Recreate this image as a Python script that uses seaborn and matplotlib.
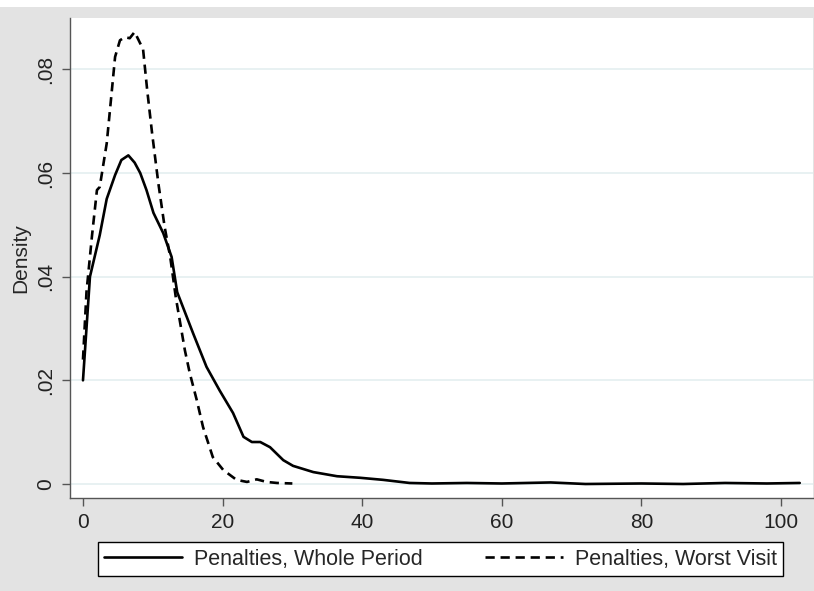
import matplotlib

matplotlib.use("Agg")
import matplotlib.pyplot as plt
import numpy as np
import pandas as pd
import seaborn as sns
from matplotlib.patches import Rectangle

# Penalties, Whole Period (solid)
whole_x = [0, 1.0, 2.4, 3.4, 4.6, 5.5, 6.5, 7.4, 8.2, 9.1, 10.1, 11.5, 12.7, 13.5,
           15.8, 17.7, 19.6, 21.5, 23.0, 24.2, 25.4, 26.8, 28.7, 30.1, 33, 36.4,
           39.7, 43, 46.8, 50, 55, 60, 67, 72, 80, 86, 92, 98, 102.7]
whole_y = [0.020, 0.040, 0.048, 0.055, 0.0596, 0.0625, 0.0634, 0.062, 0.060, 0.0567,
           0.0523, 0.0484, 0.0438, 0.037, 0.029, 0.0226, 0.018, 0.0137, 0.0091,
           0.0081, 0.0081, 0.0071, 0.0046, 0.0035, 0.0023, 0.0015, 0.0012, 0.0008,
           0.0002, 0.0001, 0.0002, 0.0001, 0.0003, 0.0, 0.0001, 0.0, 0.0002, 0.0001,
           0.0002]

# Penalties, Worst Visit (dashed)
worst_x = [0, 0.5, 1.3, 2.0, 2.4, 3.4, 4.1, 4.6, 5.3, 6.0, 6.7, 7.4, 8.2, 8.6, 9.2,
           9.9, 10.8, 11.7, 12.5, 13.3, 14.6, 15.3, 16.3, 17.2, 18.6, 20.1, 22, 23.5,
           24.9, 26.3, 27.8, 30]
worst_y = [0.024, 0.037, 0.048, 0.0567, 0.0573, 0.0657, 0.0754, 0.0824, 0.0856, 0.0862,
           0.086, 0.0872, 0.085, 0.084, 0.076, 0.0677, 0.058, 0.0496, 0.0438, 0.036,
           0.0258, 0.0214, 0.0162, 0.011, 0.0052, 0.0027, 0.0008, 0.0004, 0.0009,
           0.0004, 0.0002, 0.0001]

labels = ["Penalties, Whole Period", "Penalties, Worst Visit"]
x_ticks = [0, 20, 40, 60, 80, 100]
y_ticks = [0, 0.02, 0.04, 0.06, 0.08]
y_tick_labels = ["0", ".02", ".04", ".06", ".08"]

df = pd.concat([
    pd.DataFrame({"x": whole_x, "density": whole_y, "series": labels[0]}),
    pd.DataFrame({"x": worst_x, "density": worst_y, "series": labels[1]}),
])

sns.set_style("white")
plt.rcParams["font.family"] = ["Liberation Sans", "DejaVu Sans"]

bg = "#e3e3e3"
fig = plt.figure(figsize=(8.14, 5.91), dpi=100, facecolor=bg)
fig.patches.append(Rectangle((0, 1 - 7 / 591), 1, 7 / 591, transform=fig.transFigure,
                             facecolor="white", edgecolor="none", zorder=-1))
ax = fig.add_axes([70 / 814, 1 - 498 / 591, 743 / 814, 480 / 591])
ax.set_facecolor("white")

sns.lineplot(data=df, x="x", y="density", hue="series", style="series",
             palette=["black", "black"], dashes={labels[0]: "", labels[1]: (3.5, 2.2)},
             linewidth=1.9, sort=False, estimator=None, ax=ax, legend=False)

ax.set_xlim(-1.86, 104.6)
ax.set_ylim(-0.0027, 0.0899)
ax.set_xticks(x_ticks)
ax.set_xticklabels([str(t) for t in x_ticks], fontsize=15)
ax.set_yticks(y_ticks)
ax.set_yticklabels(y_tick_labels, fontsize=15, rotation=90, va="center")
ax.set_xlabel("")
ax.set_ylabel("Density", fontsize=15, labelpad=4)
ax.yaxis.grid(True, color="#e6f0f1", linewidth=1.3)
ax.set_axisbelow(True)
ax.tick_params(axis="both", direction="out", length=6, width=1, color="#555555",
               colors="#222222", left=True, bottom=True, pad=5)
for side in ["top", "right"]:
    ax.spines[side].set_visible(False)
for side in ["left", "bottom"]:
    ax.spines[side].set_color("#555555")
    ax.spines[side].set_linewidth(1)

handles = [plt.Line2D([], [], color="black", linewidth=1.9),
           plt.Line2D([], [], color="black", linewidth=1.9, dashes=(3.5, 2.2))]
leg = fig.legend(handles, labels, loc="center", ncol=2, fontsize=15.5,
                 bbox_to_anchor=(98 / 814, 1 - 578 / 591, 685 / 814, 38 / 591),
                 mode="expand", frameon=True, fancybox=False, handlelength=3.6,
                 handletextpad=0.55, borderpad=0.3, borderaxespad=0, columnspacing=1.5)
leg.get_frame().set_edgecolor("black")
leg.get_frame().set_linewidth(1)
leg.get_frame().set_facecolor("white")
leg.get_frame().set_alpha(1)

fig.savefig("out.png", dpi=100, facecolor=bg)
